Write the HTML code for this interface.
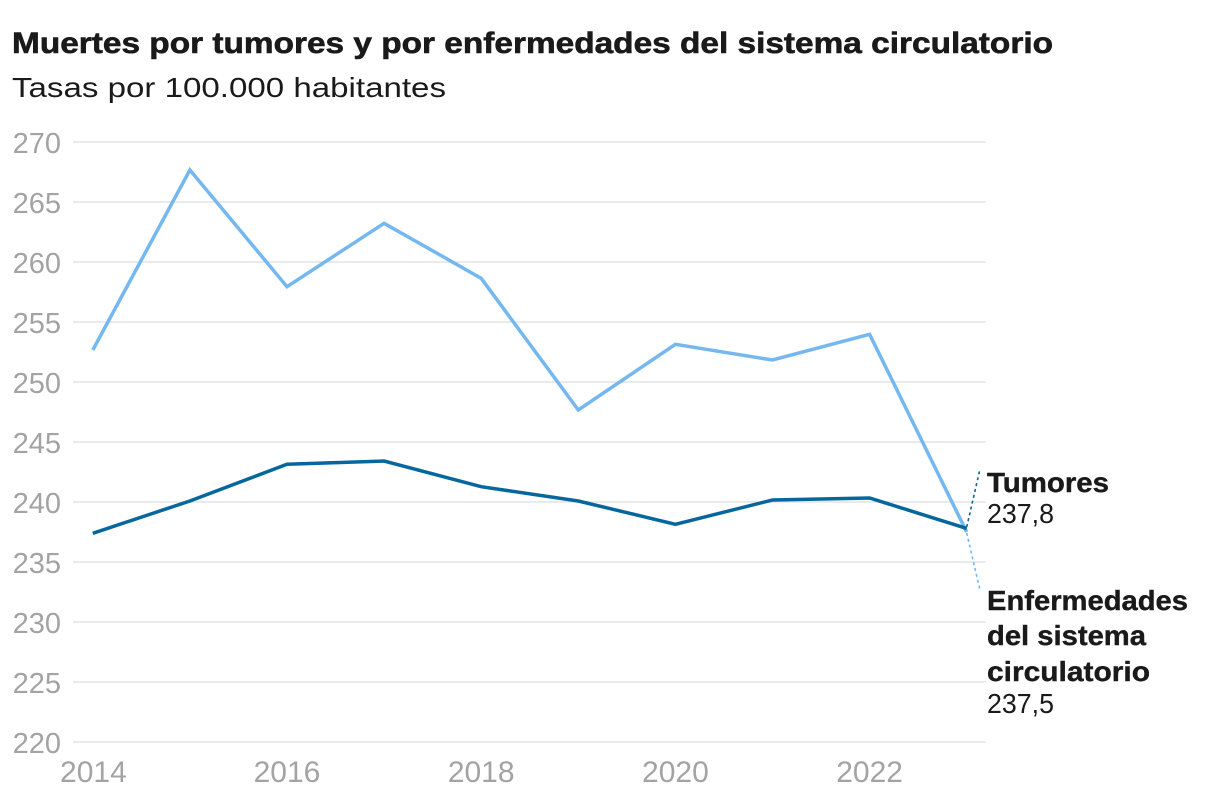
<!DOCTYPE html>
<html>
<head>
<meta charset="utf-8">
<style>
  html, body { margin: 0; padding: 0; background: #ffffff; }
  body { width: 1220px; height: 794px; overflow: hidden; }
  svg { display: block; }
  text { font-family: "Liberation Sans", "DejaVu Sans", sans-serif; }
</style>
</head>
<body>
<svg width="1220" height="794" viewBox="0 0 1220 794" xmlns="http://www.w3.org/2000/svg">
  <rect width="1220" height="794" fill="#ffffff"/>

  <!-- Title -->
  <text x="12" y="53" font-size="30" font-weight="bold" fill="#1a1a1a" stroke="#1a1a1a" stroke-width="0.6" textLength="1041" lengthAdjust="spacingAndGlyphs">Muertes por tumores y por enfermedades del sistema circulatorio</text>
  <text x="12" y="97" font-size="28" fill="#1a1a1a" textLength="434" lengthAdjust="spacingAndGlyphs">Tasas por 100.000 habitantes</text>

  <!-- Gridlines -->
  <g stroke="#e3e3e3" stroke-width="1.6">
    <line x1="73" y1="142" x2="986" y2="142"/>
    <line x1="73" y1="202" x2="986" y2="202"/>
    <line x1="73" y1="262" x2="986" y2="262"/>
    <line x1="73" y1="322" x2="986" y2="322"/>
    <line x1="73" y1="382" x2="986" y2="382"/>
    <line x1="73" y1="442" x2="986" y2="442"/>
    <line x1="73" y1="502" x2="986" y2="502"/>
    <line x1="73" y1="562" x2="986" y2="562"/>
    <line x1="73" y1="622" x2="986" y2="622"/>
    <line x1="73" y1="682" x2="986" y2="682"/>
    <line x1="73" y1="742" x2="986" y2="742"/>
  </g>

  <!-- Y labels -->
  <g font-size="29" fill="#a3a3a3" text-anchor="end">
    <text x="61" y="153">270</text>
    <text x="61" y="213">265</text>
    <text x="61" y="273">260</text>
    <text x="61" y="333">255</text>
    <text x="61" y="393">250</text>
    <text x="61" y="453">245</text>
    <text x="61" y="513">240</text>
    <text x="61" y="573">235</text>
    <text x="61" y="633">230</text>
    <text x="61" y="693">225</text>
    <text x="61" y="753">220</text>
  </g>

  <!-- X labels -->
  <g font-size="30" fill="#a3a3a3" text-anchor="middle">
    <text x="93.4" y="782">2014</text>
    <text x="287" y="782">2016</text>
    <text x="481.2" y="782">2018</text>
    <text x="675.4" y="782">2020</text>
    <text x="869.6" y="782">2022</text>
  </g>

  <!-- Series: enfermedades del sistema circulatorio (light) -->
  <polyline fill="none" stroke="#74b8ef" stroke-width="3.5" stroke-linejoin="miter" stroke-linecap="butt"
    points="92.8,350 189.9,170 287,286.7 384.1,223.3 481.2,278.3 578.3,410 675.4,344.3 772.5,360 869.6,334.3 966.7,532"/>

  <!-- Series: tumores (dark) -->
  <polyline fill="none" stroke="#06679c" stroke-width="3.5" stroke-linejoin="miter" stroke-linecap="butt"
    points="92.8,533.3 189.9,501 287,464.3 384.1,461 481.2,486.7 578.3,501 675.4,524.3 772.5,500 869.6,498 966.7,528.4"/>

  <!-- Dotted connectors -->
  <line x1="966.7" y1="527" x2="980" y2="469" stroke="#06679c" stroke-width="1.6" stroke-dasharray="3 3"/>
  <line x1="966.7" y1="533" x2="980" y2="590" stroke="#74b8ef" stroke-width="1.6" stroke-dasharray="3 3"/>

  <!-- End labels -->
  <g fill="#1a1a1a">
    <text x="987" y="492" font-size="28" font-weight="bold" stroke="#1a1a1a" stroke-width="0.4" textLength="122" lengthAdjust="spacingAndGlyphs">Tumores</text>
    <text x="987" y="523" font-size="28" textLength="67" lengthAdjust="spacingAndGlyphs">237,8</text>
    <text x="987" y="610" font-size="28" font-weight="bold" stroke="#1a1a1a" stroke-width="0.4" textLength="201" lengthAdjust="spacingAndGlyphs">Enfermedades</text>
    <text x="987" y="645" font-size="28" font-weight="bold" stroke="#1a1a1a" stroke-width="0.4" textLength="159" lengthAdjust="spacingAndGlyphs">del sistema</text>
    <text x="987" y="681" font-size="28" font-weight="bold" stroke="#1a1a1a" stroke-width="0.4" textLength="163" lengthAdjust="spacingAndGlyphs">circulatorio</text>
    <text x="987" y="713" font-size="28" textLength="67" lengthAdjust="spacingAndGlyphs">237,5</text>
  </g>
</svg>
</body>
</html>
